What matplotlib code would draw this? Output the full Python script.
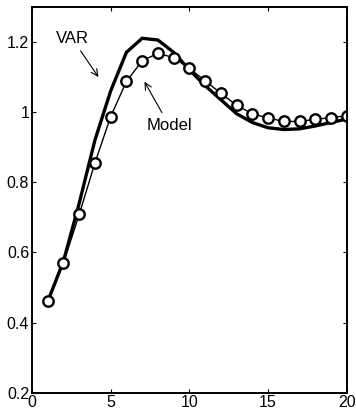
import numpy as np
from matplotlib import pyplot as plt

plt.rcParams['font.family'] = ['Liberation Sans Narrow', 'Liberation Sans', 'DejaVu Sans']

horizon = np.arange(1, 21)
var_resp = [0.46, 0.575, 0.74, 0.92, 1.06, 1.17, 1.21, 1.205, 1.17, 1.12,
            1.075, 1.035, 0.995, 0.97, 0.955, 0.95, 0.952, 0.96, 0.97, 0.98]
model_resp = [0.46, 0.57, 0.708, 0.855, 0.987, 1.087, 1.146, 1.167, 1.155, 1.124,
              1.089, 1.053, 1.019, 0.995, 0.983, 0.973, 0.973, 0.979, 0.984, 0.989]

fig = plt.figure(figsize=(3.56, 4.18), dpi=100)
ax = fig.add_axes([0.0899, 0.0605, 0.8841, 0.9235])

ax.plot(horizon, var_resp, '-k', lw=2.4, solid_joinstyle='miter')
ax.plot(horizon, model_resp, '-ok', lw=1.0, markersize=7.5, markerfacecolor='white',
        markeredgewidth=1.7)

ax.annotate('VAR', xy=(4.32, 1.093), xytext=(2.54, 1.21), ha='center', va='center',
            fontsize=12, arrowprops=dict(arrowstyle='->', lw=0.8, color='k'))
ax.annotate('Model', xy=(7.06, 1.093), xytext=(8.71, 0.962), ha='center', va='center',
            fontsize=12, arrowprops=dict(arrowstyle='->', lw=0.8, color='k'))

ax.set_xlim(0, 20)
ax.set_ylim(0.2, 1.3)
ax.set_xticks([0, 5, 10, 15, 20])
ax.set_yticks([0.2, 0.4, 0.6, 0.8, 1.0, 1.2])
ax.set_yticklabels(['0.2', '0.4', '0.6', '0.8', '1', '1.2'])
ax.tick_params(direction='in', top=True, right=True, labelsize=11.5, length=3, width=0.8, pad=2)
for s in ax.spines.values():
    s.set_linewidth(1.4)

fig.savefig('out.png', dpi=100)
